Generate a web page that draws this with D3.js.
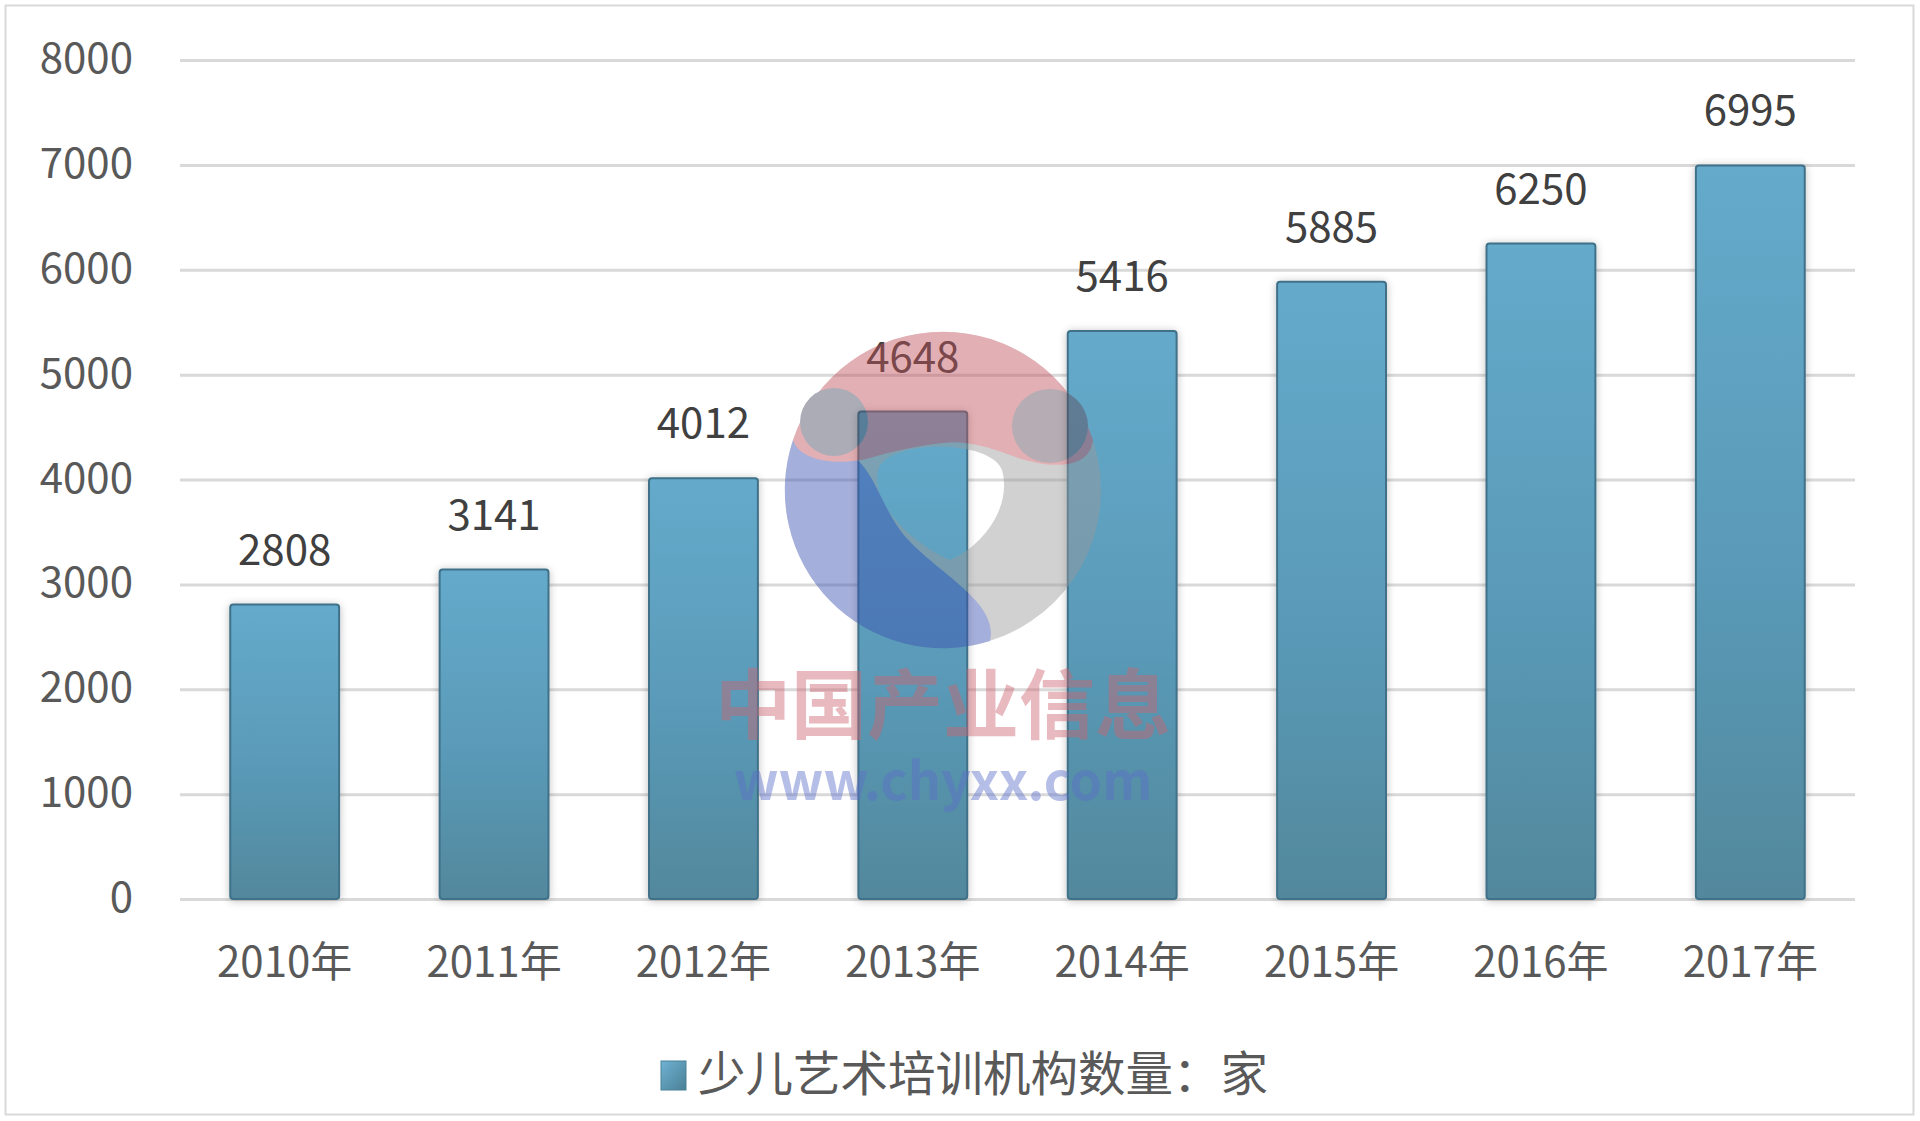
<!DOCTYPE html>
<html>
<head>
<meta charset="utf-8">
<script src="https://cdn.jsdelivr.net/npm/d3@7"></script>
<style>
  html, body { margin: 0; padding: 0; background: #fff; }
  svg { display: block; }
  text { font-family: "Noto Sans CJK SC", "Noto Sans", sans-serif; }
</style>
</head>
<body>
<svg id="chart" width="1920" height="1121"></svg>
<script>
const categories = ["2010年", "2011年", "2012年", "2013年", "2014年", "2015年", "2016年", "2017年"];
const values = [2808, 3141, 4012, 4648, 5416, 5885, 6250, 6995];
const yTicks = [0, 1000, 2000, 3000, 4000, 5000, 6000, 7000, 8000];
const seriesName = "少儿艺术培训机构数量：家";

(function () {
const svg = d3.select("#chart");
const W = 1920, H = 1121;
const pLeft = 180, pRight = 1855, pTop = 60, pBottom = 899;

// frame
svg.append("rect").attr("x", 5.5).attr("y", 5.5).attr("width", W - 12).attr("height", H - 12)
  .attr("fill", "#fff").attr("stroke", "#d9d9d9").attr("stroke-width", 2);

const x = d3.scaleBand().domain(categories).range([pLeft, pRight]).paddingInner(0.48).paddingOuter(0.24);
const y = d3.scaleLinear().domain([0, 8000]).range([pBottom, pTop]);

const defs = svg.append("defs");
const grad = defs.append("linearGradient").attr("id", "barGrad").attr("x1", 0).attr("y1", 0).attr("x2", 0).attr("y2", 1);
grad.append("stop").attr("offset", "0%").attr("stop-color", "#65aacb");
grad.append("stop").attr("offset", "55%").attr("stop-color", "#5a9ab8");
grad.append("stop").attr("offset", "100%").attr("stop-color", "#52889c");
const lgrad = defs.append("linearGradient").attr("id", "legGrad").attr("x1", 0).attr("y1", 0).attr("x2", 1).attr("y2", 1);
lgrad.append("stop").attr("offset", "0%").attr("stop-color", "#6fb3d3");
lgrad.append("stop").attr("offset", "100%").attr("stop-color", "#4a7f95");
const shadow = defs.append("filter").attr("id", "shadow").attr("x", "-20%").attr("y", "-20%").attr("width", "140%").attr("height", "140%");
shadow.append("feGaussianBlur").attr("in", "SourceAlpha").attr("stdDeviation", 4).attr("result", "b");
shadow.append("feOffset").attr("in", "b").attr("dx", 0).attr("dy", 1).attr("result", "o");
shadow.append("feComponentTransfer").attr("in", "o").attr("result", "o2")
  .append("feFuncA").attr("type", "linear").attr("slope", 0.25);
const fm = shadow.append("feMerge");
fm.append("feMergeNode").attr("in", "o2");
fm.append("feMergeNode").attr("in", "SourceGraphic");

// gridlines via axis
const yAxis = d3.axisLeft(y).tickValues(yTicks).tickSize(-(pRight - pLeft)).tickPadding(47).tickFormat(d3.format("d"));
const gy = svg.append("g").attr("transform", `translate(${pLeft},0)`).call(yAxis);
gy.select(".domain").remove();
gy.selectAll(".tick line").attr("stroke", "#d9d9d9").attr("stroke-width", 3);
gy.selectAll(".tick text").attr("font-size", 42).attr("fill", "#595959").attr("dy", "0.3em");

// x axis labels
const xAxis = d3.axisBottom(x).tickSize(0).tickPadding(48);
const gx = svg.append("g").attr("transform", `translate(0,${pBottom})`).call(xAxis);
gx.select(".domain").remove();
gx.selectAll(".tick text").attr("font-size", 42).attr("fill", "#595959");

// bars
svg.append("g").selectAll("rect").data(values).join("rect")
  .attr("x", (d, i) => x(categories[i]))
  .attr("y", d => y(d))
  .attr("width", x.bandwidth())
  .attr("height", d => y(0) - y(d))
  .attr("rx", 3)
  .attr("fill", "url(#barGrad)")
  .attr("stroke", "#3f7189").attr("stroke-width", 2)
  .attr("filter", "url(#shadow)");

// value labels
svg.append("g").selectAll("text").data(values).join("text")
  .attr("x", (d, i) => x(categories[i]) + x.bandwidth() / 2)
  .attr("y", d => y(d) - 40)
  .attr("text-anchor", "middle")
  .attr("font-size", 42).attr("fill", "#404040")
  .text(d => d);

// legend
const lg = svg.append("g");
lg.append("rect").attr("x", 661).attr("y", 1061).attr("width", 25).attr("height", 29)
  .attr("fill", "url(#legGrad)").attr("stroke", "#4a8099").attr("stroke-width", 1);
lg.append("text").attr("x", 698).attr("y", 1091)
  .attr("font-size", 47.5).attr("fill", "#595959").text(seriesName);

// watermark (logo + site text)
const wm = svg.append("g").attr("pointer-events", "none").attr("opacity", 0.45);
const cx = 943, cy = 490, r = 158;
// gray ring with irregular hole
wm.append("path").attr("fill-rule", "evenodd").attr("fill", "#9a9a9a")
  .attr("d", `M${cx - r},${cy} a${r},${r} 0 1,0 ${2 * r},0 a${r},${r} 0 1,0 ${-2 * r},0 Z ` +
             `M878,470 C885,440 990,438 1002,470 C1012,505 985,545 950,560 C915,545 870,505 878,470 Z`);
// blue comma on the left
wm.append("path").attr("fill", "#3a50b0")
  .attr("d", "M793,440 A158,158 0 0,0 990,641 C1000,600 930,570 900,530 C875,495 872,455 830,445 Z");
// red crescent over the top
wm.append("path").attr("fill", "#c0505a")
  .attr("d", "M793,440 A158,158 0 0,1 1093,440 C1090,470 1050,470 1010,455 C985,445 960,440 943,443 C915,446 890,452 870,458 C840,466 800,462 793,440 Z");
// overlapping lobes
wm.append("ellipse").attr("cx", 834).attr("cy", 422).attr("rx", 34).attr("ry", 34).attr("fill", "#4a4a60");
wm.append("ellipse").attr("cx", 1050).attr("cy", 426).attr("rx", 38).attr("ry", 37).attr("fill", "#5e4a58");

const wt = svg.append("g").attr("pointer-events", "none");
wt.append("text").attr("x", cx).attr("y", 733).attr("text-anchor", "middle")
  .attr("font-size", 76).attr("font-weight", "bold").attr("fill", "rgba(205,100,110,0.45)")
  .text("中国产业信息");
wt.append("text").attr("x", cx).attr("y", 800).attr("text-anchor", "middle")
  .attr("font-size", 52).attr("font-weight", "bold").attr("font-family", "Liberation Sans, Arial, sans-serif")
  .attr("fill", "rgba(90,110,200,0.45)")
  .text("www.chyxx.com");
})();
</script>
</body>
</html>
